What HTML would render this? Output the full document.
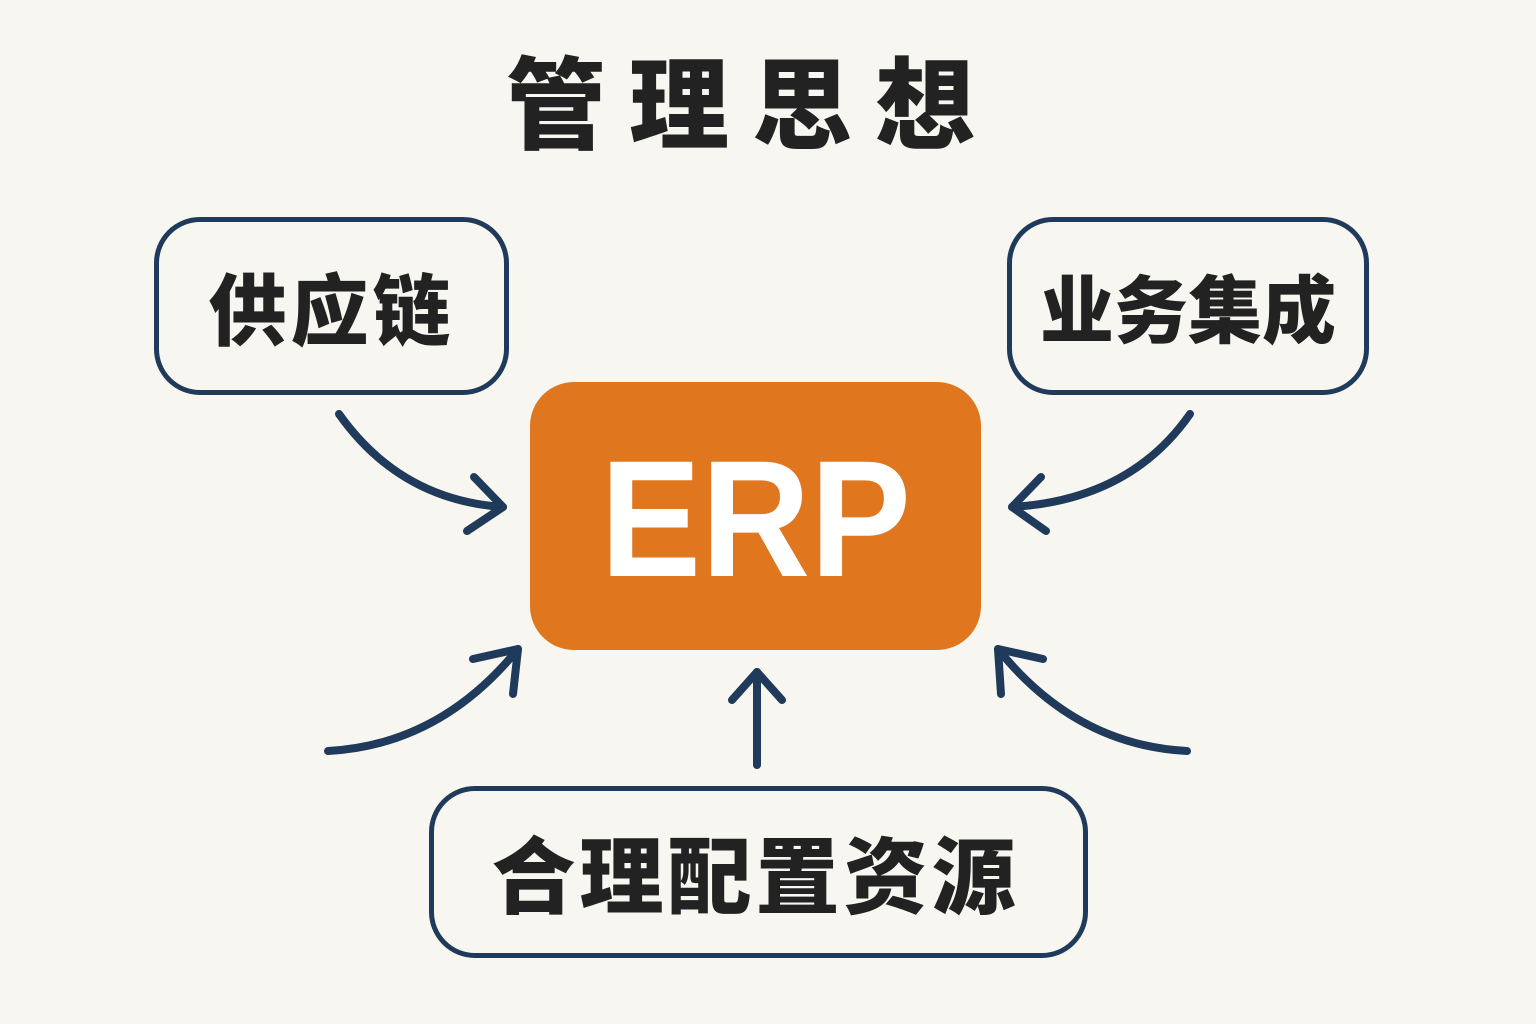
<!DOCTYPE html>
<html><head><meta charset="utf-8"><style>
body{margin:0;width:1536px;height:1024px;background:#f8f6f0;overflow:hidden;position:relative;font-family:"Liberation Sans","Noto Sans CJK SC",sans-serif}
.t{position:absolute;font-family:"Noto Sans CJK SC","WenQuanYi Zen Hei",sans-serif;font-weight:900;color:#222;white-space:nowrap;line-height:1}
.box{position:absolute;border:5px solid #1f3a5a;border-radius:46px;box-sizing:border-box;display:flex;align-items:center;justify-content:center}
</style></head><body>
<div class="t" style="left:506px;top:48px;font-size:100px;letter-spacing:23px">管理思想</div>
<div class="box" style="left:154px;top:217px;width:355px;height:178px"><span class="t" style="position:static;font-size:78px;letter-spacing:4px">供应链</span></div>
<div class="box" style="left:1007px;top:217px;width:362px;height:178px"><span class="t" style="position:static;font-size:74px">业务集成</span></div>
<div style="position:absolute;left:530px;top:382px;width:451px;height:268px;background:#e0761e;border-radius:44px;display:flex;align-items:center;justify-content:center"><span style="color:#fff;font-weight:bold;font-size:166px;font-family:'Liberation Sans',sans-serif;margin-top:8px;transform:scaleX(0.91);display:inline-block">ERP</span></div>
<div class="box" style="left:429px;top:786px;width:659px;height:172px"><span class="t" style="position:static;font-size:84px;letter-spacing:4px;margin-left:-6px">合理配置资源</span></div>
<svg width="1536" height="1024" style="position:absolute;left:0;top:0" fill="none" stroke="#1f3a5a" stroke-width="8" stroke-linecap="round" stroke-linejoin="round">
<path d="M339 414 Q400 500 503 507"/><path d="M474 477 L503 507 L467 531"/>
<path d="M1190 414 Q1130 500 1012 507"/><path d="M1041 477 L1012 507 L1046 531"/>
<path d="M328 751 Q440 745 518 649"/><path d="M473 659 L518 649 L513 694"/>
<path d="M1187 751 Q1075 745 998 649"/><path d="M1043 659 L998 649 L1001 694"/>
<path d="M757 765 L757 672"/><path d="M732 700 L757 672 L782 700"/>
</svg>
</body></html>
